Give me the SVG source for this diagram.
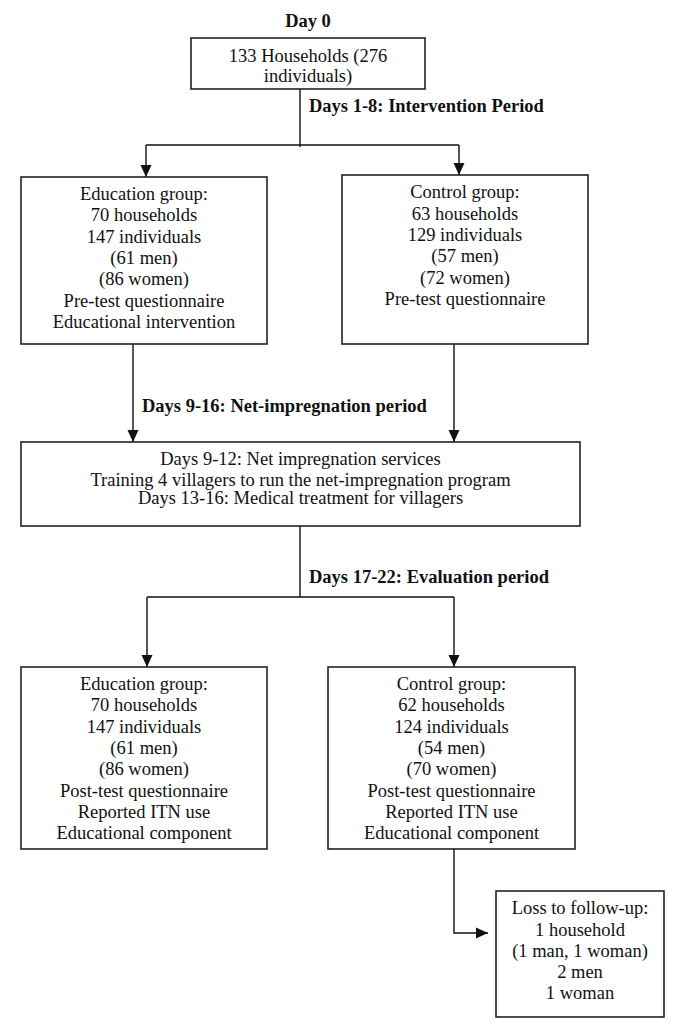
<svg xmlns="http://www.w3.org/2000/svg" width="685" height="1028" viewBox="0 0 685 1028">
<style>
text{font-family:"Liberation Serif","Times New Roman",serif;font-size:18.5px;fill:#111;text-anchor:middle}
.b{font-weight:bold;text-anchor:start}
.box{fill:#fff;stroke:#222;stroke-width:1.6}
.bg{fill:#fff;stroke:none}
.ln{fill:none;stroke:#111;stroke-width:1.4}
</style>
<defs>
<marker id="ah" markerUnits="userSpaceOnUse" markerWidth="12" markerHeight="12" viewBox="0 0 12 12" refX="12" refY="6" orient="auto">
<path d="M0,0.5 L12,6 L0,11.5 Z" fill="#111"/>
</marker>
</defs>
<rect class="bg" width="685" height="1028"/>
<g id="connectors">
<path class="ln" d="M300,89 V147"/>
<path class="ln" d="M146,145 H459"/>
<path class="ln" d="M146,145 V177" marker-end="url(#ah)"/>
<path class="ln" d="M459,145 V175" marker-end="url(#ah)"/>
<path class="ln" d="M133,344 V442" marker-end="url(#ah)"/>
<path class="ln" d="M454,344 V442" marker-end="url(#ah)"/>
<path class="ln" d="M300,526 V597"/>
<path class="ln" d="M147,597 H454"/>
<path class="ln" d="M147,597 V667" marker-end="url(#ah)"/>
<path class="ln" d="M454,597 V667" marker-end="url(#ah)"/>
<path class="ln" d="M454,849 V933 H488" marker-end="url(#ah)"/>
</g>
<g id="labels">
<text class="b" x="308" y="27" style="text-anchor:middle">Day 0</text>
<text class="b" x="309" y="112">Days 1-8: Intervention Period</text>
<text class="b" x="142" y="412">Days 9-16: Net-impregnation period</text>
<text class="b" x="309" y="583">Days 17-22: Evaluation period</text>
</g>
<g id="n-start">
<rect class="box" x="191" y="38" width="234" height="51"/>
<text x="308" y="62">133 Households (276</text>
<text x="308" y="82">individuals)</text>
</g>
<g id="n-edu1">
<rect class="box" x="21" y="177" width="246" height="167"/>
<text x="144" y="200">Education group:</text>
<text x="144" y="221.3">70 households</text>
<text x="144" y="242.6">147 individuals</text>
<text x="144" y="264">(61 men)</text>
<text x="144" y="285.3">(86 women)</text>
<text x="144" y="306.6">Pre-test questionnaire</text>
<text x="144" y="328">Educational intervention</text>
</g>
<g id="n-ctl1">
<rect class="box" x="342" y="175" width="246" height="169"/>
<text x="465" y="198.3">Control group:</text>
<text x="465" y="219.6">63 households</text>
<text x="465" y="241">129 individuals</text>
<text x="465" y="262.3">(57 men)</text>
<text x="465" y="283.6">(72 women)</text>
<text x="465" y="305">Pre-test questionnaire</text>
</g>
<g id="n-impreg">
<rect class="box" x="21" y="442" width="559" height="84"/>
<text x="300.5" y="465">Days 9-12: Net impregnation services</text>
<text x="300.5" y="486">Training 4 villagers to run the net-impregnation program</text>
<text x="300.5" y="504">Days 13-16: Medical treatment for villagers</text>
</g>
<g id="n-edu2">
<rect class="box" x="21" y="667" width="246" height="182"/>
<text x="144" y="690">Education group:</text>
<text x="144" y="711.3">70 households</text>
<text x="144" y="732.6">147 individuals</text>
<text x="144" y="754">(61 men)</text>
<text x="144" y="775.3">(86 women)</text>
<text x="144" y="796.6">Post-test questionnaire</text>
<text x="144" y="818">Reported ITN use</text>
<text x="144" y="839.3">Educational component</text>
</g>
<g id="n-ctl2">
<rect class="box" x="328" y="667" width="247" height="182"/>
<text x="451.5" y="690">Control group:</text>
<text x="451.5" y="711.3">62 households</text>
<text x="451.5" y="732.6">124 individuals</text>
<text x="451.5" y="754">(54 men)</text>
<text x="451.5" y="775.3">(70 women)</text>
<text x="451.5" y="796.6">Post-test questionnaire</text>
<text x="451.5" y="818">Reported ITN use</text>
<text x="451.5" y="839.3">Educational component</text>
</g>
<g id="n-loss">
<rect class="box" x="496" y="891" width="168" height="126"/>
<text x="580" y="914">Loss to follow-up:</text>
<text x="580" y="935.5">1 household</text>
<text x="580" y="957">(1 man, 1 woman)</text>
<text x="580" y="978">2 men</text>
<text x="580" y="999">1 woman</text>
</g>
</svg>
